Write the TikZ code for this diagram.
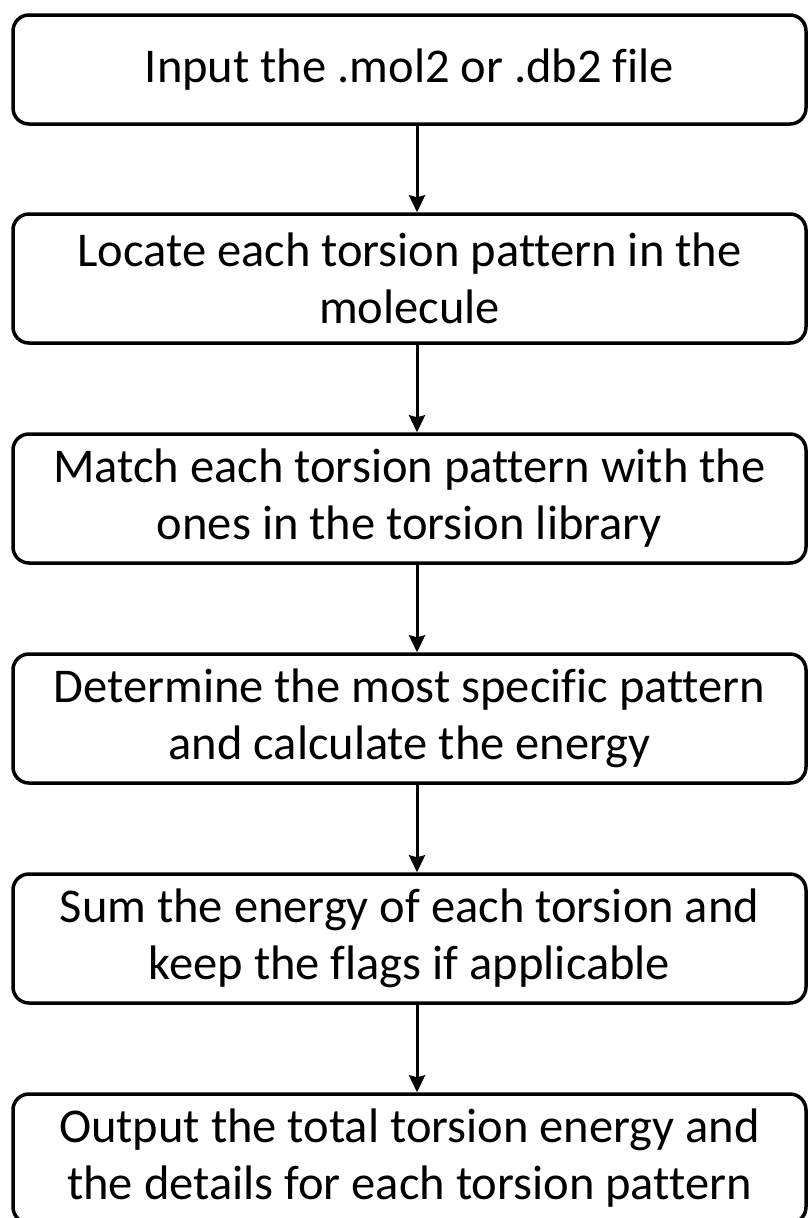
\documentclass[tikz,border=0pt]{standalone}
\usepackage{fontspec}
\setmainfont[Ligatures=NoCommon]{Carlito}
\usetikzlibrary{arrows.meta}
\begin{document}
\begin{tikzpicture}[x=1pt,y=-1pt,
 box/.style={draw=black, line width=3.5pt, rounded corners=16pt, minimum width=793pt, minimum height=129pt, align=center, inner sep=0pt, font=\fontsize{48.5}{57}\selectfont},
 arr/.style={line width=3pt, -{Stealth[length=17pt,width=16pt,inset=2pt]}}]
\useasboundingbox (0,0) rectangle (810,1218);
\coordinate (ax) at (417,0);
\node[box, minimum height=109pt] (b1) at (409.5,69.5) {Input the .mol2 or .db2 file};
\node[box] (b2) at (409.5,278.5) {Locate each torsion pattern in the\\molecule};
\node[box] (b3) at (409.5,498.5) {Match each torsion pattern with the\\ones in the torsion library};
\node[box] (b4) at (409.5,718.5) {Determine the most specific pattern\\and calculate the energy};
\node[box] (b5) at (409.5,938.5) {Sum the energy of each torsion and\\keep the flags if applicable};
\node[box] (b6) at (409.5,1158.5) {Output the total torsion energy and\\the details for each torsion pattern};
\draw[arr] (b1.south -| ax) -- (b2.north -| ax);
\draw[arr] (b2.south -| ax) -- (b3.north -| ax);
\draw[arr] (b3.south -| ax) -- (b4.north -| ax);
\draw[arr] (b4.south -| ax) -- (b5.north -| ax);
\draw[arr] (b5.south -| ax) -- (b6.north -| ax);
\end{tikzpicture}
\end{document}
